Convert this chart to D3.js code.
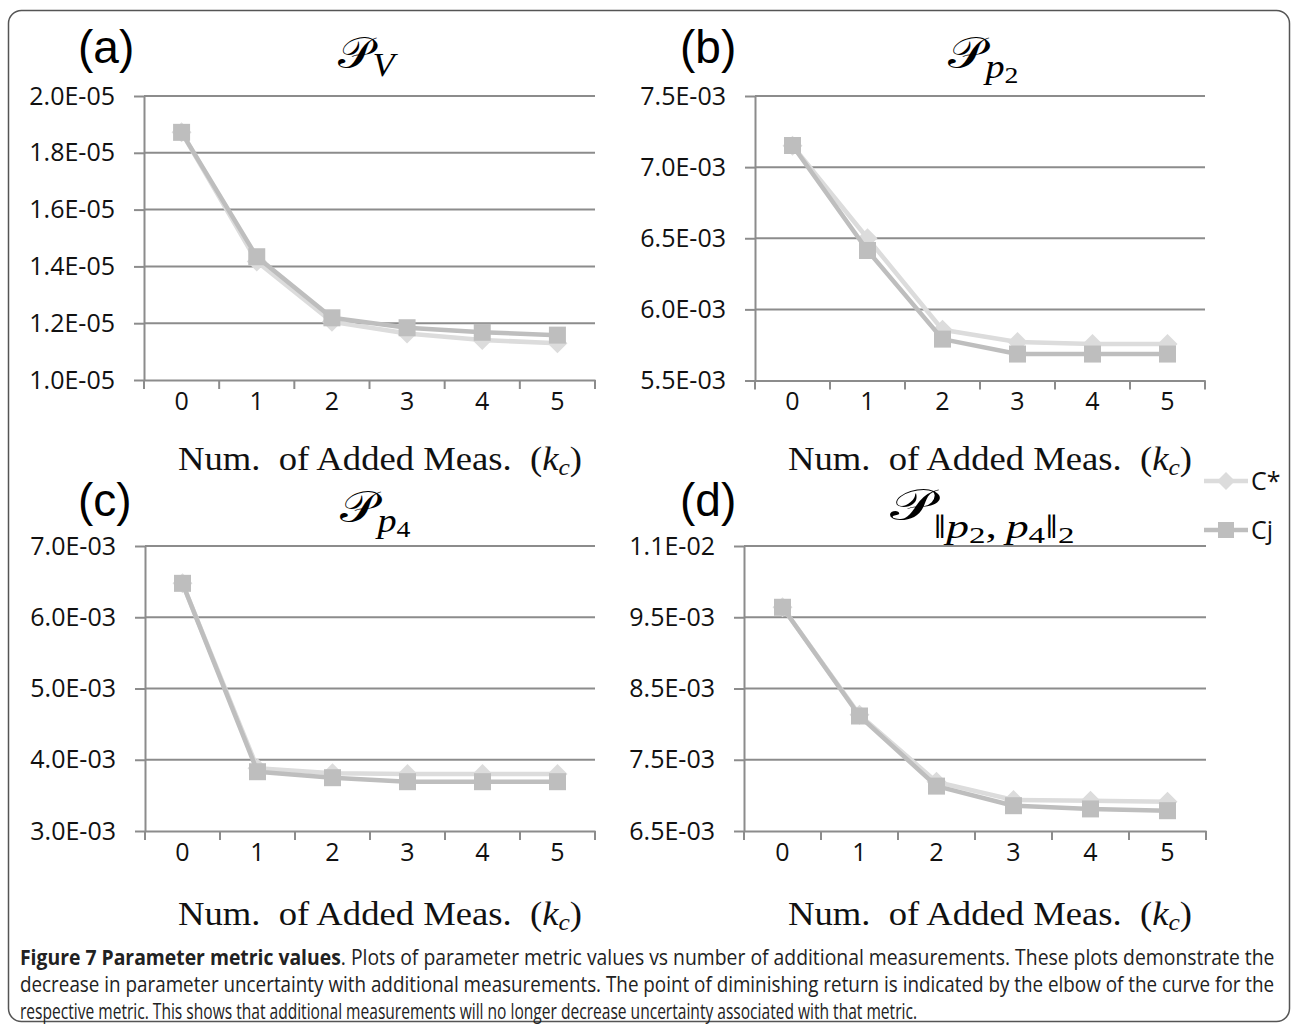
<!DOCTYPE html>
<html>
<head>
<meta charset="utf-8">
<script src="https://cdn.jsdelivr.net/npm/d3@7"></script>
<style>
  body { margin: 0; background: #fff; }
  svg { display: block; }
</style>
</head>
<body>
<svg id="chart" width="1293" height="1029"></svg>
<script>
'use strict';

// number of added measurements (k_c)
const kc = [0, 1, 2, 3, 4, 5];
const seriesNames = ['C*', 'Cj'];

// (a) P_V
const pvCstar = [1.872e-5, 1.417e-5, 1.205e-5, 1.164e-5, 1.141e-5, 1.129e-5];
const pvCj    = [1.872e-5, 1.434e-5, 1.219e-5, 1.184e-5, 1.168e-5, 1.158e-5];
const pvTicks = [1.0e-5, 1.2e-5, 1.4e-5, 1.6e-5, 1.8e-5, 2.0e-5];
const pvLabels = ['1.0E-05', '1.2E-05', '1.4E-05', '1.6E-05', '1.8E-05', '2.0E-05'];

// (b) P_p2
const pp2Cstar = [7.15e-3, 6.50e-3, 5.857e-3, 5.77e-3, 5.756e-3, 5.756e-3];
const pp2Cj    = [7.152e-3, 6.414e-3, 5.791e-3, 5.686e-3, 5.686e-3, 5.686e-3];
const pp2Ticks = [5.5e-3, 6.0e-3, 6.5e-3, 7.0e-3, 7.5e-3];
const pp2Labels = ['5.5E-03', '6.0E-03', '6.5E-03', '7.0E-03', '7.5E-03'];

// (c) P_p4
const pp4Cstar = [6.476e-3, 3.88e-3, 3.81e-3, 3.80e-3, 3.80e-3, 3.80e-3];
const pp4Cj    = [6.476e-3, 3.832e-3, 3.748e-3, 3.692e-3, 3.692e-3, 3.692e-3];
const pp4Ticks = [3.0e-3, 4.0e-3, 5.0e-3, 6.0e-3, 7.0e-3];
const pp4Labels = ['3.0E-03', '4.0E-03', '5.0E-03', '6.0E-03', '7.0E-03'];

// (d) P_||p2,p4||2
const pnCstar = [9.64e-3, 8.13e-3, 7.19e-3, 6.935e-3, 6.925e-3, 6.91e-3];
const pnCj    = [9.64e-3, 8.114e-3, 7.13e-3, 6.855e-3, 6.81e-3, 6.785e-3];
const pnTicks = [6.5e-3, 7.5e-3, 8.5e-3, 9.5e-3, 10.5e-3];
const pnLabels = ['6.5E-03', '7.5E-03', '8.5E-03', '9.5E-03', '1.1E-02'];

const caption = [
  ['Figure 7 Parameter metric values', '. Plots of parameter metric values vs number of additional measurements. These plots demonstrate the'],
  ['', 'decrease in parameter uncertainty with additional measurements. The point of diminishing return is indicated by the elbow of the curve for the'],
  ['', 'respective metric. This shows that additional measurements will no longer decrease uncertainty associated with that metric.']
];

const C_STAR = '#dcdcdc', C_J = '#bebebe', GRID = '#8c8c8c';
const SANS = '"Open Sans", sans-serif';
const SERIF = '"Liberation Serif", "DejaVu Serif", serif';

const svg = d3.select('#chart');

// outer frame
svg.append('rect')
  .attr('x', 8.5).attr('y', 10.5)
  .attr('width', 1281).attr('height', 1011)
  .attr('rx', 13)
  .attr('fill', 'none')
  .attr('stroke', '#555')
  .attr('stroke-width', 1.5);

// subscript pieces: [text, italic, level]
const panels = [
  { tag: '(a)', cstar: pvCstar, cj: pvCj, ticks: pvTicks, labels: pvLabels,
    x0: 144, x1: 595, top: 96, bottom: 380, tagX: 78, tagY: 63,
    title: { span: [338, 395], y: 68, drop: 8, sub: [['V', true, 1]] },
    axisTitleX: 380, axisTitleY: 470 },
  { tag: '(b)', cstar: pp2Cstar, cj: pp2Cj, ticks: pp2Ticks, labels: pp2Labels,
    x0: 755, x1: 1205, top: 96, bottom: 380.5, tagX: 680, tagY: 63,
    title: { span: [948, 1018], y: 68, drop: 10, sub: [['p', true, 1], ['2', false, 2]] },
    axisTitleX: 990, axisTitleY: 470 },
  { tag: '(c)', cstar: pp4Cstar, cj: pp4Cj, ticks: pp4Ticks, labels: pp4Labels,
    x0: 145, x1: 595, top: 546, bottom: 831, tagX: 78, tagY: 516,
    title: { span: [340, 410], y: 522, drop: 10, sub: [['p', true, 1], ['4', false, 2]] },
    axisTitleX: 380, axisTitleY: 925 },
  { tag: '(d)', cstar: pnCstar, cj: pnCj, ticks: pnTicks, labels: pnLabels,
    x0: 744, x1: 1206, top: 546, bottom: 831, tagX: 680, tagY: 516,
    title: { span: [890, 1075], y: 520, drop: 18, sub: [['\u2016', false, 1], ['p', true, 1], ['2', false, 2], [',\u2009', false, 1], ['p', true, 1], ['4', false, 2], ['\u2016', false, 1], ['2', false, 2]] },
    axisTitleX: 990, axisTitleY: 925 }
];

// legend backing (drawn first so panel text stays on top; it only hides the end of a gridline)
svg.append('rect')
  .attr('x', 1181).attr('y', 540).attr('width', 104).attr('height', 14)
  .attr('fill', '#fff');

panels.forEach(function(p) {
  const g = svg.append('g');

  const x = d3.scaleBand().domain(kc).range([p.x0, p.x1]);
  const cx = d => x(d) + x.bandwidth() / 2;
  const y = d3.scaleLinear()
    .domain([p.ticks[0], p.ticks[p.ticks.length - 1]])
    .range([p.bottom, p.top]);

  // gridlines
  g.append('g').selectAll('line')
    .data(p.ticks.slice(1))
    .enter().append('line')
      .attr('x1', p.x0).attr('x2', p.x1)
      .attr('y1', d => y(d)).attr('y2', d => y(d))
      .attr('stroke', GRID).attr('stroke-width', 2);

  // y axis
  const yAxis = g.append('g')
    .attr('transform', `translate(${p.x0}, 0)`)
    .call(d3.axisLeft(y).tickValues(p.ticks)
      .tickFormat((d, i) => p.labels[i])
      .tickSize(10).tickSizeOuter(0).tickPadding(19));
  yAxis.select('.domain').attr('stroke', GRID).attr('stroke-width', 2);
  yAxis.selectAll('.tick line').attr('stroke', GRID).attr('stroke-width', 2);
  yAxis.selectAll('.tick text')
    .attr('font-family', SANS).attr('font-size', 25).attr('fill', '#111');

  // x axis: labels at band centres, tick marks at band edges
  const xAxis = g.append('g')
    .attr('transform', `translate(0, ${p.bottom})`)
    .call(d3.axisBottom(x).tickSize(0).tickPadding(12));
  xAxis.select('.domain').attr('stroke', GRID).attr('stroke-width', 2);
  xAxis.selectAll('.tick text')
    .attr('font-family', SANS).attr('font-size', 25).attr('fill', '#111');
  g.append('g').selectAll('line')
    .data(kc.map(d => x(d)).concat([p.x1]))
    .enter().append('line')
      .attr('x1', d => d).attr('x2', d => d)
      .attr('y1', p.bottom).attr('y2', p.bottom + 9)
      .attr('stroke', GRID).attr('stroke-width', 2);

  // series
  const line = d3.line().x((d, i) => cx(kc[i])).y(d => y(d));
  g.append('path').datum(p.cstar)
    .attr('fill', 'none').attr('stroke', C_STAR).attr('stroke-width', 4.5)
    .attr('stroke-linejoin', 'round')
    .attr('d', line);
  g.append('g').selectAll('path')
    .data(p.cstar)
    .enter().append('path')
      .attr('transform', (d, i) => `translate(${cx(kc[i])}, ${y(d)})`)
      .attr('d', 'M0,-10L10,0L0,10L-10,0Z')
      .attr('fill', C_STAR);
  g.append('path').datum(p.cj)
    .attr('fill', 'none').attr('stroke', C_J).attr('stroke-width', 4.5)
    .attr('stroke-linejoin', 'round')
    .attr('d', line);
  g.append('g').selectAll('rect')
    .data(p.cj)
    .enter().append('rect')
      .attr('x', (d, i) => cx(kc[i]) - 8.5)
      .attr('y', d => y(d) - 8.5)
      .attr('width', 17).attr('height', 17)
      .attr('fill', C_J);

  // panel tag
  g.append('text')
    .attr('x', p.tagX).attr('y', p.tagY)
    .attr('font-family', '"Liberation Sans", Arial, sans-serif')
    .attr('font-size', 46)
    .text(p.tag);

  // title: calligraphic P with subscript, fitted to its span in the figure
  const tg = g.append('g');
  const t = tg.append('text').attr('font-family', SERIF);
  t.append('tspan').attr('font-size', 44).text('\u{1D4AB}');
  let level = 0;
  const shift = [0, p.title.drop, p.title.drop + 5];
  p.title.sub.forEach(function(s) {
    t.append('tspan')
      .attr('font-size', s[2] === 1 ? 33 : 24)
      .attr('font-style', s[1] ? 'italic' : 'normal')
      .attr('dy', shift[s[2]] - shift[level])
      .text(s[0]);
    level = s[2];
  });
  const tw = t.node().getComputedTextLength();
  const span = p.title.span;
  tg.attr('transform', `translate(${span[0]}, ${p.title.y}) scale(${(span[1] - span[0]) / tw}, 1)`);

  // x axis title, stretched to the width it has in the figure
  const ag = g.append('g');
  const at = ag.append('text')
    .attr('font-family', SERIF)
    .attr('font-size', 33)
    .attr('fill', '#111');
  at.append('tspan').text('Num.\u00a0 of Added Meas.\u00a0 (');
  at.append('tspan').attr('font-style', 'italic').text('k');
  at.append('tspan').attr('font-style', 'italic').attr('font-size', 23).attr('dy', 5).text('c');
  at.append('tspan').attr('dy', -5).text(')');
  const aw = at.node().getComputedTextLength();
  ag.attr('transform', `translate(${p.axisTitleX - 202}, ${p.axisTitleY}) scale(${404 / aw}, 1)`);
});

// legend
const legend = svg.append('g');
const legendY = d3.scalePoint().domain(seriesNames).range([481, 530]);
seriesNames.forEach(function(name) {
  const yy = legendY(name);
  const col = name === 'C*' ? C_STAR : C_J;
  legend.append('line')
    .attr('x1', 1204).attr('x2', 1248).attr('y1', yy).attr('y2', yy)
    .attr('stroke', col).attr('stroke-width', 4.5);
  if (name === 'C*') {
    legend.append('path')
      .attr('transform', `translate(1226, ${yy})`)
      .attr('d', 'M0,-9L9,0L0,9L-9,0Z').attr('fill', col);
  } else {
    legend.append('rect')
      .attr('x', 1218).attr('y', yy - 8).attr('width', 16).attr('height', 16)
      .attr('fill', col);
  }
  legend.append('text')
    .attr('x', 1251).attr('y', yy + 9)
    .attr('font-family', SANS).attr('font-size', 25).attr('fill', '#111')
    .text(name);
});

// caption, each line squeezed horizontally to its width in the figure
const capWidths = [1255, 1255, 898];
const capY = d3.scalePoint().domain(d3.range(caption.length)).range([965, 1019]);
caption.forEach(function(c, i) {
  const cg = svg.append('g');
  const txt = cg.append('text')
    .attr('font-family', SANS).attr('font-size', 21).attr('fill', '#222');
  if (c[0]) txt.append('tspan').attr('font-weight', 'bold').text(c[0]);
  txt.append('tspan').text(c[1]);
  const w = txt.node().getComputedTextLength();
  cg.attr('transform', `translate(20, ${capY(i)}) scale(${capWidths[i] / w}, 1)`);
});
</script>
</body>
</html>
